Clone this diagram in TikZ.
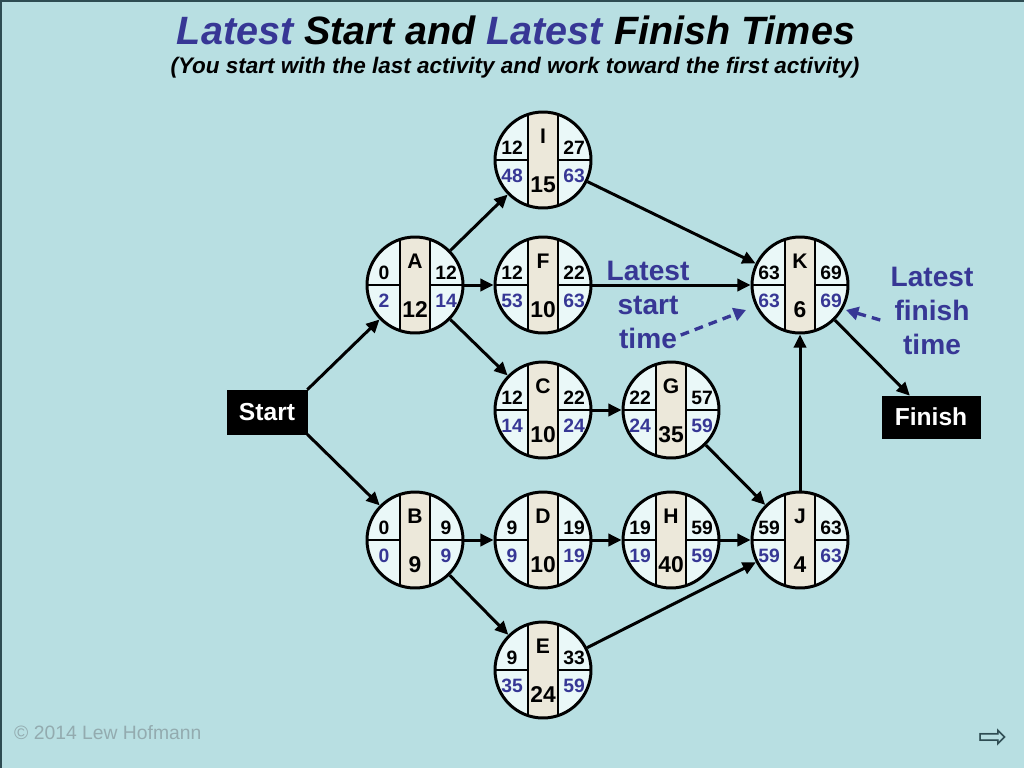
\documentclass[tikz,border=0pt]{standalone}
\usepackage{fontspec}
\setmainfont{Liberation Sans}
\newfontfamily\symfont{DejaVu Sans}
\usetikzlibrary{arrows.meta}

\definecolor{slide}{HTML}{B8DFE2}
\definecolor{latecol}{HTML}{373795}
\definecolor{quadfill}{HTML}{EAF8F8}
\definecolor{bandfill}{HTML}{ECE8DA}
\definecolor{framecol}{HTML}{2E4C52}
\definecolor{notecol}{HTML}{93ABAF}

\tikzset{
  act/.style={circle, draw, line width=1.7pt, minimum size=1.92cm, inner sep=0pt, fill=quadfill,
    path picture={
      \fill[bandfill] ([xshift=-0.3cm]path picture bounding box.north) rectangle ([xshift=0.3cm]path picture bounding box.south);
      \draw[line width=1.1pt] ([xshift=-0.3cm]path picture bounding box.north) -- ([xshift=-0.3cm]path picture bounding box.south)
        ([xshift=0.3cm]path picture bounding box.north) -- ([xshift=0.3cm]path picture bounding box.south)
        (path picture bounding box.west) -- ([xshift=-0.3cm]path picture bounding box.center)
        ([xshift=0.3cm]path picture bounding box.center) -- (path picture bounding box.east);
    }},
  actletter/.style={font=\bfseries\fontsize{12}{12}\selectfont, inner sep=0pt},
  actdur/.style={font=\bfseries\fontsize{13}{13}\selectfont, inner sep=0pt},
  early/.style={font=\bfseries\fontsize{11}{11}\selectfont, inner sep=0pt},
  late/.style={early, text=latecol},
  term/.style={fill=black, draw=black, text=white, font=\bfseries\fontsize{14}{14}\selectfont},
  conn/.style={line width=1.7pt, -{Triangle[length=7.5pt,width=7pt]}},
  hint/.style={latecol, line width=1.9pt, dash pattern=on 5pt off 3.5pt, -{Triangle[length=7pt,width=7.5pt]}},
  latelabel/.style={font=\bfseries\fontsize{16}{19.3}\selectfont, text=latecol, align=center, inner sep=0pt}
}

% name, position, letter, duration, ES, EF, LS, LF
\newcommand{\activity}[8]{%
  \node[act] (#1) at (#2) {};
  \node[actletter] (#1-l) at ([shift={(0,-24)}]#1) {#3};
  \node[actdur] (#1-d) at ([shift={(0,25)}]#1) {#4};
  \node[early] (#1-es) at ([shift={(-31,-12)}]#1) {#5};
  \node[early] (#1-ef) at ([shift={(31,-12)}]#1) {#6};
  \node[late] (#1-ls) at ([shift={(-31,16)}]#1) {#7};
  \node[late] (#1-lf) at ([shift={(31,16)}]#1) {#8};
}

\begin{document}
\begin{tikzpicture}[x=0.02cm, y=-0.02cm]
\fill[slide] (0,0) rectangle (1024,768);
\useasboundingbox (0,0) rectangle (1024,768);
\fill[framecol] (0,0) rectangle (1024,2);
\fill[framecol] (0,0) rectangle (2,768);

% titles
\node (title) at (516,30) {\fontsize{22.5}{27}\selectfont\bfseries\itshape
  \textcolor{latecol}{Latest} Start and \textcolor{latecol}{Latest} Finish Times};
\node (subtitle) at (515,68) {\fontsize{12.8}{15}\selectfont\bfseries\itshape
  (You start with the last activity and work toward the first activity)};

% activities
\activity{I}{543,160}{I}{15}{12}{27}{48}{63}
\activity{A}{415,285}{A}{12}{0}{12}{2}{14}
\activity{F}{543,285}{F}{10}{12}{22}{53}{63}
\activity{K}{800,285}{K}{6}{63}{69}{63}{69}
\activity{C}{543,410}{C}{10}{12}{22}{14}{24}
\activity{G}{671,410}{G}{35}{22}{57}{24}{59}
\activity{B}{415,540}{B}{9}{0}{9}{0}{9}
\activity{D}{543,540}{D}{10}{9}{19}{9}{19}
\activity{H}{671,540}{H}{40}{19}{59}{19}{59}
\activity{J}{800,540}{J}{4}{59}{63}{59}{63}
\activity{E}{543,670}{E}{24}{9}{33}{35}{59}

\node[term, minimum width=1.6cm, minimum height=0.88cm] (Start) at (267,412) {Start};
\node[term, minimum width=1.96cm, minimum height=0.84cm] (Finish) at (931,417) {Finish};

% connectors
\draw[conn] (Start.north east) -- (A);
\draw[conn] (Start.south east) -- (B);
\draw[conn] (A) -- (I);
\draw[conn] (A) -- (F);
\draw[conn] (A) -- (C);
\draw[conn] (I) -- (K);
\draw[conn] (F) -- (K);
\draw[conn] (C) -- (G);
\draw[conn] (G) -- (J);
\draw[conn] (B) -- (D);
\draw[conn] (B) -- (E);
\draw[conn] (D) -- (H);
\draw[conn] (H) -- (J);
\draw[conn] (E) -- (J);
\draw[conn] (J) -- (K);
\draw[conn] (K) -- (Finish);

% notes
\node[latelabel] (lstext) at (648,305) {Latest\\start\\time};
\node[latelabel] (lftext) at (932,311) {Latest\\finish\\time};
\coordinate (lstip) at ([shift={(-54,25)}]K);
\coordinate (lftip) at ([shift={(46,25)}]K);
\draw[hint] ([shift={(-9,-14)}]lstext.south east) -- (lstip);
\draw[hint] ([shift={(-10,9)}]lftext.west) -- (lftip);

\node[anchor=west, text=notecol, font=\fontsize{11}{11}\selectfont] (copy) at (8,733) {\textcopyright{} 2014 Lew Hofmann};
\node[text=framecol, font=\symfont\fontsize{20}{20}\selectfont, inner sep=0pt] (nextarrow) at (993,739) {⇨};
\end{tikzpicture}
\end{document}
